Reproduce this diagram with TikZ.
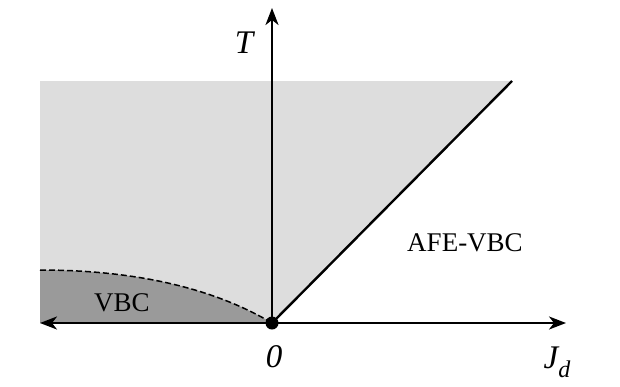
\documentclass[tikz,border=0pt]{standalone}
\usepackage{fontspec}
\setmainfont{Liberation Serif}
\usetikzlibrary{arrows.meta}
\definecolor{lightreg}{HTML}{DDDDDD}
\definecolor{darkreg}{HTML}{9A9A9A}
\tikzset{
  axis/.style={line width=2.2pt, -{Stealth[length=17pt,width=13pt,inset=5pt]}},
  phase/.style={font=\fontsize{27}{27}\selectfont},
  mathlab/.style={font=\fontsize{33}{33}\selectfont\itshape},
  bound/.style={line width=2.4pt},
}
\begin{document}
\begin{tikzpicture}[x=1pt,y=-1pt]
\useasboundingbox (0,0) rectangle (620,386);
\coordinate (O) at (272,323);
\coordinate (L) at (40,323);
\coordinate (R) at (566,323);
\coordinate (Top) at (272,8);
\coordinate (E) at (512,81);
\coordinate (TL) at (40,81);
\coordinate (C0) at (40,270);
% regions
\fill[lightreg] (TL) -- (E) -- (O) -- (L) -- cycle;
\fill[darkreg] (C0) .. controls (145,270) and (220,292) .. (O) -- (L) -- cycle;
\draw[line width=1.5pt, dash pattern=on 6pt off 3pt] (C0) .. controls (145,270) and (220,292) .. (O);
% axes
\draw[axis] (O) -- (L);
\draw[axis] (O) -- (R);
\draw[axis] (O) -- (Top);
\draw[bound] (O) -- (E);
\fill (O) circle (6.5);
% labels
\node[mathlab] (tlab) at (244,43) {T};
\node[mathlab] (zlab) at (274,357) {0};
\node[mathlab] (jlab) at (557,362) {J\raisebox{-0.28em}{\fontsize{24}{24}\selectfont d}};
\node[phase] (vbc) at (122,303) {VBC};
\node[phase] (afe) at (465,243) {AFE-VBC};
\end{tikzpicture}
\end{document}
